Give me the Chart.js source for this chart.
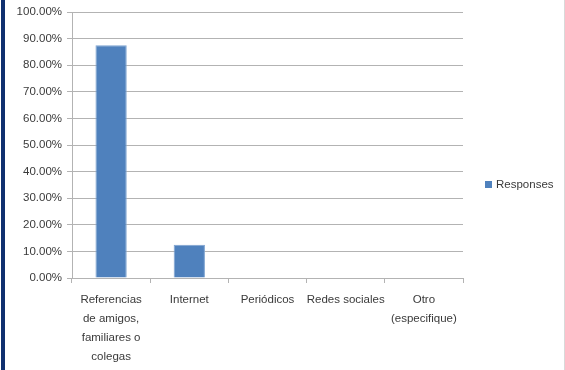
<!DOCTYPE html>
<html>
<head>
<meta charset="utf-8">
<script src="https://cdn.jsdelivr.net/npm/chart.js@4"></script>
<style>
  html, body { margin: 0; padding: 0; background: #fff; }
  #wrap { position: relative; width: 565px; height: 370px; overflow: hidden; }
  #frameLeft { position: absolute; left: 1px; top: 0; width: 4px; height: 370px; background: #10306f; }
  #frameRight { position: absolute; left: 564px; top: 0; width: 1px; height: 370px; background: #d9d9d9; }
  canvas { position: absolute; left: 0; top: 0; }
</style>
</head>
<body>
<div id="wrap">
  <canvas id="c" width="565" height="370"></canvas>
  <div id="frameLeft"></div>
  <div id="frameRight"></div>
</div>
<script>
// Survey answers: how respondents heard about us
const categories = [
  ["Referencias", "de amigos,", "familiares o", "colegas"],
  "Internet",
  "Periódicos",
  "Redes sociales",
  ["Otro", "(especifique)"]
];
const responses = [0.875, 0.125, 0, 0, 0];
const seriesName = "Responses";
const yTicks = [0, 0.1, 0.2, 0.3, 0.4, 0.5, 0.6, 0.7, 0.8, 0.9, 1.0];

const FONT = "'Liberation Sans', Arial, sans-serif";
const TEXT = "#3a3a3a";
const GRID = "#b3b3b3";

// Legend drawn at the right of the plot: a small square and the series name
const sideLegend = {
  id: "sideLegend",
  afterDraw(chart) {
    const ctx = chart.ctx;
    const ds = chart.data.datasets[0];
    const x = chart.chartArea.right + 22;
    const y = 185;
    ctx.save();
    ctx.fillStyle = ds.backgroundColor;
    ctx.fillRect(x, y - 4, 7, 7);
    ctx.fillStyle = TEXT;
    ctx.font = "11.5px " + FONT;
    ctx.textBaseline = "middle";
    ctx.fillText(ds.label, x + 11, y);
    ctx.restore();
  }
};

new Chart(document.getElementById("c"), {
  type: "bar",
  data: {
    labels: categories,
    datasets: [{
      label: seriesName,
      data: responses,
      backgroundColor: "#4f81bd",
      borderColor: "#7da3d1",
      borderWidth: 1,
      categoryPercentage: 1.0,
      barPercentage: 0.4
    }]
  },
  options: {
    responsive: false,
    animation: false,
    layout: { padding: { top: 12, right: 102, bottom: 0, left: 0 } },
    plugins: {
      legend: { display: false },
      tooltip: { enabled: false }
    },
    scales: {
      x: {
        offset: true,
        grid: {
          offset: true,
          drawOnChartArea: false,
          drawTicks: true,
          tickLength: 5,
          tickColor: GRID,
          color: GRID
        },
        border: { display: true, color: GRID },
        ticks: {
          color: TEXT,
          padding: 7,
          maxRotation: 0,
          autoSkip: false,
          font: { family: FONT, size: 11.5, lineHeight: 1.65 }
        },
        afterFit(scale) { scale.height = 92; }
      },
      y: {
        min: 0,
        max: 1,
        afterBuildTicks(scale) { scale.ticks = yTicks.map(v => ({ value: v })); },
        grid: {
          color: GRID,
          tickLength: 5,
          tickColor: GRID
        },
        border: { display: true, color: GRID },
        ticks: {
          color: TEXT,
          padding: 5,
          font: { family: FONT, size: 11.5 },
          callback: v => (v * 100).toFixed(2) + "%"
        },
        afterFit(scale) { scale.width = 72; }
      }
    }
  },
  plugins: [sideLegend]
});
</script>
</body>
</html>
